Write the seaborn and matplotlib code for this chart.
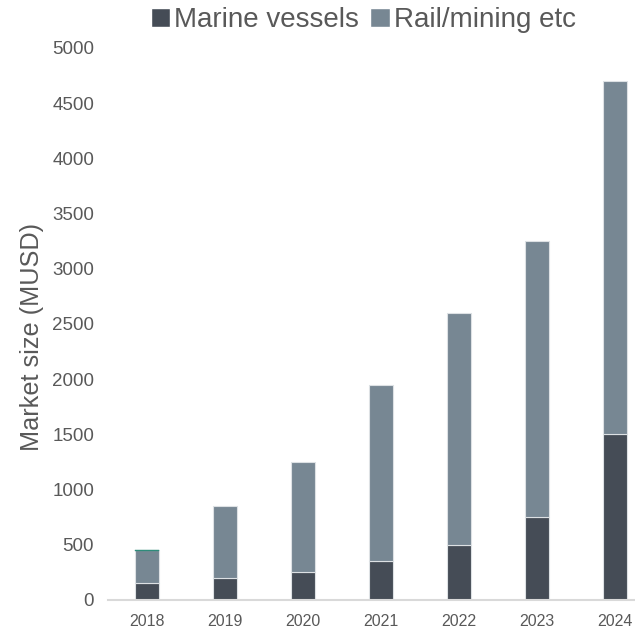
import matplotlib
matplotlib.use("Agg")
import matplotlib.pyplot as plt
from matplotlib.patches import Patch
import numpy as np
import seaborn as sns

# ============================================
# DATA (MUSD)
# ============================================
years = ["2018", "2019", "2020", "2021", "2022", "2023", "2024"]
marine = [150, 200, 250, 350, 500, 750, 1500]
rail = [300, 650, 1000, 1600, 2100, 2500, 3200]
other = [10, 0, 0, 0, 0, 0, 0]  # thin teal sliver on 2018, not in legend

y_ticks = [0, 500, 1000, 1500, 2000, 2500, 3000, 3500, 4000, 4500, 5000]

# colours
dark = "#454c56"
grey = "#778793"
teal = "#2e8b7a"
text_col = "#595959"

sns.set_theme(style="white")
plt.rcParams["font.family"] = ["Liberation Sans", "DejaVu Sans"]

fig = plt.figure(figsize=(6.35, 6.28), dpi=100)
ax = fig.add_axes([0.170, 0.0446, 0.830, 0.879])

bar_w = 0.31
edge = dict(edgecolor="#dde1e4", linewidth=0.8)

sns.barplot(x=years, y=marine, color=dark, width=bar_w, saturation=1, ax=ax, **edge)
sns.barplot(x=years, y=rail, bottom=marine, color=grey, width=bar_w, saturation=1, ax=ax, **edge)

# teal sliver: only the non-zero entries, drawn on top
top = np.add(marine, rail)
mask = np.array(other) > 0
sns.barplot(x=np.array(years)[mask], y=np.array(other)[mask], bottom=top[mask] - 4,
            order=years, color=teal, width=bar_w, saturation=1, ax=ax,
            edgecolor=teal, linewidth=0.3, zorder=5)

ax.set_xlim(-0.5, 6.26)
ax.set_ylim(0, 5000)
ax.set_yticks(y_ticks)
ax.set_yticklabels([str(t) for t in y_ticks], fontsize=13.5, color=text_col)
ax.set_xticks(range(len(years)))
ax.set_xticklabels(years, fontsize=11.5, color=text_col)
ax.tick_params(axis="x", length=0, pad=10)
ax.tick_params(axis="y", length=0, pad=10)

ax.set_xlabel("")
ax.set_ylabel("Market size (MUSD)", fontsize=18.2, color=text_col)
ax.yaxis.set_label_coords(-0.122, 0.476)

sns.despine(ax=ax, left=True, top=True, right=True)
ax.spines["bottom"].set_color("#d9d9d9")
ax.spines["bottom"].set_linewidth(1.5)

handles = [Patch(facecolor=dark, label="Marine vessels"),
           Patch(facecolor=grey, label="Rail/mining etc")]
fig.legend(handles=handles, loc="center", bbox_to_anchor=(0.572, 0.968), ncol=2,
           frameon=False, fontsize=20, labelcolor=text_col,
           handlelength=0.7, handleheight=0.7, handletextpad=0.15,
           columnspacing=0.4, borderaxespad=0)

fig.savefig("out.png", dpi=100)
